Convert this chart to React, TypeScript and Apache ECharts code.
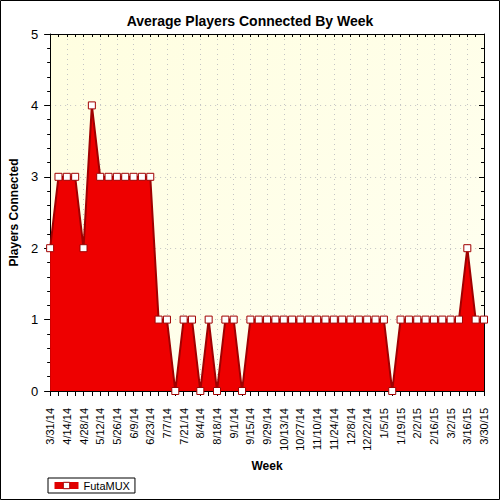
import React, { useEffect, useRef } from "react";
import * as echarts from "echarts";

const weeks: string[] = [
  "3/31/14", "4/7/14", "4/14/14", "4/21/14", "4/28/14", "5/5/14", "5/12/14", "5/19/14",
  "5/26/14", "6/2/14", "6/9/14", "6/16/14", "6/23/14", "6/30/14", "7/7/14", "7/14/14",
  "7/21/14", "7/28/14", "8/4/14", "8/11/14", "8/18/14", "8/25/14", "9/1/14", "9/8/14",
  "9/15/14", "9/22/14", "9/29/14", "10/6/14", "10/13/14", "10/20/14", "10/27/14", "11/3/14",
  "11/10/14", "11/17/14", "11/24/14", "12/1/14", "12/8/14", "12/15/14", "12/22/14", "12/29/14",
  "1/5/15", "1/12/15", "1/19/15", "1/26/15", "2/2/15", "2/9/15", "2/16/15", "2/23/15",
  "3/2/15", "3/9/15", "3/16/15", "3/23/15", "3/30/15",
];

const players: number[] = [
  2, 3, 3, 3, 2, 4, 3, 3, 3, 3, 3, 3, 3, 1, 1, 0, 1, 1, 0, 1, 0, 1, 1, 0,
  1, 1, 1, 1, 1, 1, 1, 1, 1, 1, 1, 1, 1, 1, 1, 1, 1, 0, 1, 1, 1, 1, 1, 1,
  1, 1, 2, 1, 1,
];

const seriesName = "FutaMUX";
const FONT = "'Liberation Sans', Arial, sans-serif";

export default function App() {
  const ref = useRef<HTMLDivElement>(null);

  useEffect(() => {
    document.body.style.margin = "0";
    if (!ref.current) return;
    const chart = echarts.init(ref.current, undefined, { renderer: "svg" });
    chart.setOption({
      animation: false,
      backgroundColor: "#ffffff",
      textStyle: { fontFamily: FONT },
      title: {
        text: "Average Players Connected By Week",
        left: "center",
        top: 9,
        textStyle: { fontSize: 14, fontWeight: "bold", color: "#000", fontFamily: FONT },
      },
      grid: {
        left: 49,
        right: 16,
        top: 34,
        bottom: 109,
        show: true,
        borderWidth: 0,
        backgroundColor: {
          type: "linear",
          x: 0,
          y: 0,
          x2: 1,
          y2: 1,
          colorStops: [
            { offset: 0, color: "#fffee0" },
            { offset: 1, color: "#fffff2" },
          ],
        },
      },
      legend: {
        left: 48,
        top: 478,
        padding: [2, 5, 2, 3],
        itemWidth: 24,
        itemHeight: 8,
        borderColor: "#000",
        borderWidth: 1,
        borderRadius: 0,
        textStyle: { fontSize: 11, color: "#000", fontFamily: FONT },
        lineStyle: { color: "#e00000", width: 7 },
        itemStyle: { color: "#ffffff", borderColor: "#a00000", borderWidth: 1 },
        data: [seriesName],
      },
      xAxis: [
        {
          type: "category",
          data: weeks,
          boundaryGap: false,
          name: "Week",
          nameLocation: "middle",
          nameGap: 69,
          nameTextStyle: { fontSize: 12, fontWeight: "bold", color: "#000", fontFamily: FONT },
          axisLine: { show: true, onZero: false, lineStyle: { color: "#000", width: 1 } },
          axisTick: { show: true, interval: 0, length: 5, inside: false, lineStyle: { color: "#000" } },
          axisLabel: {
            interval: 1,
            rotate: 90,
            fontSize: 11,
            margin: 17,
            color: "#000",
            fontFamily: FONT,
          },
          splitLine: {
            show: true,
            interval: 1,
            lineStyle: { color: "#c4c4c4", type: [1, 4], width: 1 },
          },
        },
        {
          type: "category",
          data: weeks,
          boundaryGap: false,
          position: "top",
          axisLine: { show: true, onZero: false, lineStyle: { color: "#000", width: 1 } },
          axisTick: { show: true, interval: 0, length: 3, inside: true, lineStyle: { color: "#000" } },
          axisLabel: { show: false },
          splitLine: { show: false },
        },
      ],
      yAxis: [
        {
          type: "value",
          min: 0,
          max: 5,
          interval: 1,
          name: "Players Connected",
          nameLocation: "middle",
          nameGap: 27,
          nameTextStyle: { fontSize: 12, fontWeight: "bold", color: "#000", fontFamily: FONT },
          axisLine: { show: true, lineStyle: { color: "#000", width: 1 } },
          axisTick: { show: true, length: 6, lineStyle: { color: "#000" } },
          minorTick: { show: true, splitNumber: 5, length: 3, lineStyle: { color: "#000" } },
          axisLabel: { fontSize: 13, color: "#000", margin: 12, fontFamily: FONT },
          splitLine: {
            show: true,
            lineStyle: { color: "#c4c4c4", type: [1, 4], width: 1 },
          },
        },
        {
          type: "value",
          min: 0,
          max: 5,
          interval: 1,
          position: "right",
          axisLine: { show: true, lineStyle: { color: "#000", width: 1 } },
          axisTick: { show: true, inside: true, length: 5, lineStyle: { color: "#000" } },
          minorTick: { show: true, splitNumber: 5, length: 3, lineStyle: { color: "#000" } },
          axisLabel: { show: false },
          splitLine: { show: false },
        },
      ],
      series: [
        {
          name: seriesName,
          type: "line",
          data: players,
          xAxisIndex: 0,
          yAxisIndex: 0,
          symbol: "rect",
          symbolSize: 7,
          showAllSymbol: true,
          lineStyle: { color: "#a00000", width: 2 },
          areaStyle: { color: "#ee0000", opacity: 1 },
          itemStyle: { color: "#ffffff", borderColor: "#a00000", borderWidth: 1 },
          emphasis: { disabled: true },
        },
      ],
      graphic: [
        {
          type: "rect",
          shape: { x: 0.5, y: 0.5, width: 499, height: 499 },
          style: { fill: "none", stroke: "#000", lineWidth: 1 },
          silent: true,
          z: 100,
        },
      ],
    });
    return () => chart.dispose();
  }, []);

  return <div ref={ref} style={{ width: 500, height: 500 }} />;
}
